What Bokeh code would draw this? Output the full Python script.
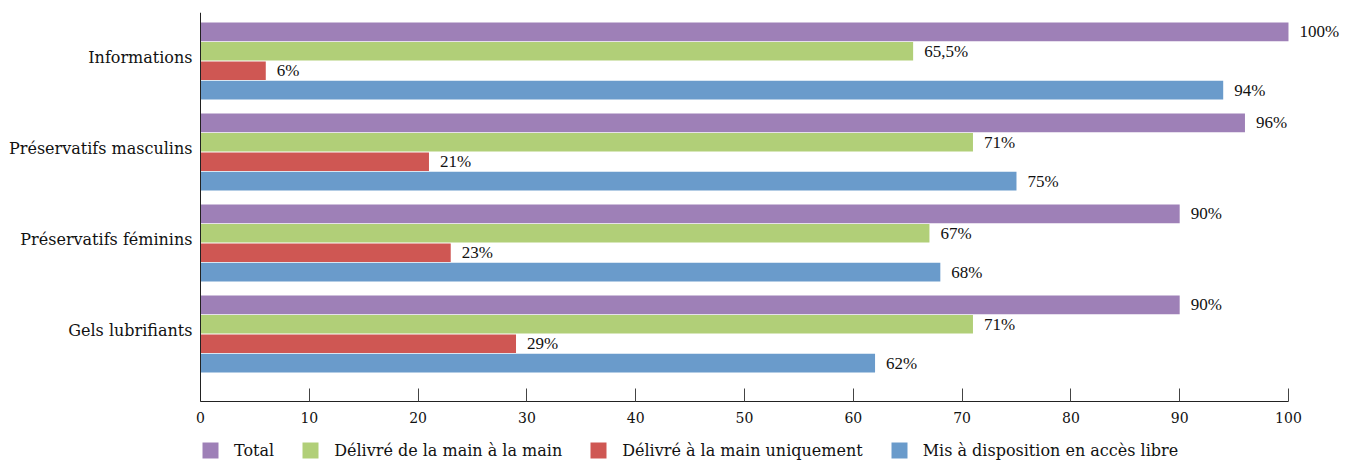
from bokeh.plotting import figure
from bokeh.models import ColumnDataSource, Range1d, FixedTicker, Legend, LegendItem, LinearAxis
from bokeh.embed import file_html
from bokeh.resources import INLINE

categories = ["Informations", "Préservatifs masculins", "Préservatifs féminins", "Gels lubrifiants"]
series_names = ["Total", "Délivré de la main à la main", "Délivré à la main uniquement", "Mis à disposition en accès libre"]
total = [100, 96, 90, 90]
main_a_main = [65.5, 71, 67, 71]
main_uniquement = [6, 21, 23, 29]
acces_libre = [94, 75, 68, 62]
x_ticks = [0, 10, 20, 30, 40, 50, 60, 70, 80, 90, 100]

colors = ["#9E80B7", "#B1CF78", "#CF5753", "#6A9BCB"]
offsets = [0.32, 0.107, -0.107, -0.32]
series = [total, main_a_main, main_uniquement, acces_libre]
FONT = "DejaVu Serif"

n = len(categories)
centers = [n - 1 - i for i in range(n)]
y_top, y_axis, y_bottom = 3.533, -0.742, -1.390

p = figure(output_backend="svg", toolbar_location=None,
           frame_width=1158, frame_height=448,
           min_border_left=192, min_border_top=12, min_border_right=0,
           min_border_bottom=0,
           x_range=Range1d(-0.735, 105.7), y_range=Range1d(y_bottom, y_top))
p.outline_line_color = None
p.grid.visible = False
p.background_fill_color = "white"

def fmt(v):
    s = ("%g" % v).replace(".", ",")
    return s + "%"

renderers = []
for vals, off, col in zip(series, offsets, colors):
    ys = [c + off for c in centers]
    src = ColumnDataSource(dict(y=ys, right=vals, label=[fmt(v) for v in vals]))
    r = p.hbar(y="y", left=0, right="right", height=0.205, source=src,
               fill_color=col, line_color=None)
    renderers.append(r)
    p.text(x="right", y="y", text="label", source=src, x_offset=11,
           text_baseline="middle", text_align="left",
           text_font=FONT, text_font_size="17px", text_color="#111111")

# x axis
xa = p.xaxis[0]
xa.fixed_location = y_axis
xa.ticker = FixedTicker(ticks=x_ticks)
xa.bounds = (0, 100)
xa.major_tick_in = 13
xa.major_tick_out = 0
xa.minor_tick_line_color = None
xa.axis_line_color = "#222222"
xa.major_tick_line_color = "#444444"
xa.major_label_text_font = FONT
xa.major_label_text_font_size = "14px"
xa.major_label_text_color = "#111111"
xa.major_label_standoff = 10

# category labels (left axis at frame edge, no line)
ya = p.yaxis[0]
ya.ticker = FixedTicker(ticks=[c + 0.04 for c in centers])
ya.major_label_overrides = {c + 0.04: cat for c, cat in zip(centers, categories)}
ya.major_tick_line_color = None
ya.major_tick_in = 0
ya.major_tick_out = 0
ya.minor_tick_line_color = None
ya.axis_line_color = None
ya.major_label_text_font = FONT
ya.major_label_text_font_size = "16px"
ya.major_label_text_color = "#111111"
ya.major_label_standoff = 0

# vertical axis line at x = 0
yline = LinearAxis(fixed_location=0, ticker=FixedTicker(ticks=[]), bounds=(y_axis, y_top),
                   major_tick_in=0, major_tick_out=0, minor_tick_in=0, minor_tick_out=0,
                   major_label_text_font_size="0px", axis_line_color="#222222")
p.add_layout(yline, "left")

legend = Legend(items=[LegendItem(label=nm, renderers=[r]) for nm, r in zip(series_names, renderers)],
                orientation="horizontal", location=(8, 0),
                glyph_width=20, glyph_height=20, label_standoff=14, spacing=26,
                label_text_font=FONT, label_text_font_size="16px", label_text_color="#111111",
                border_line_color=None, background_fill_alpha=0, padding=2, margin=0)
p.add_layout(legend, "center")

open("out.html", "w").write(file_html(p, INLINE))
